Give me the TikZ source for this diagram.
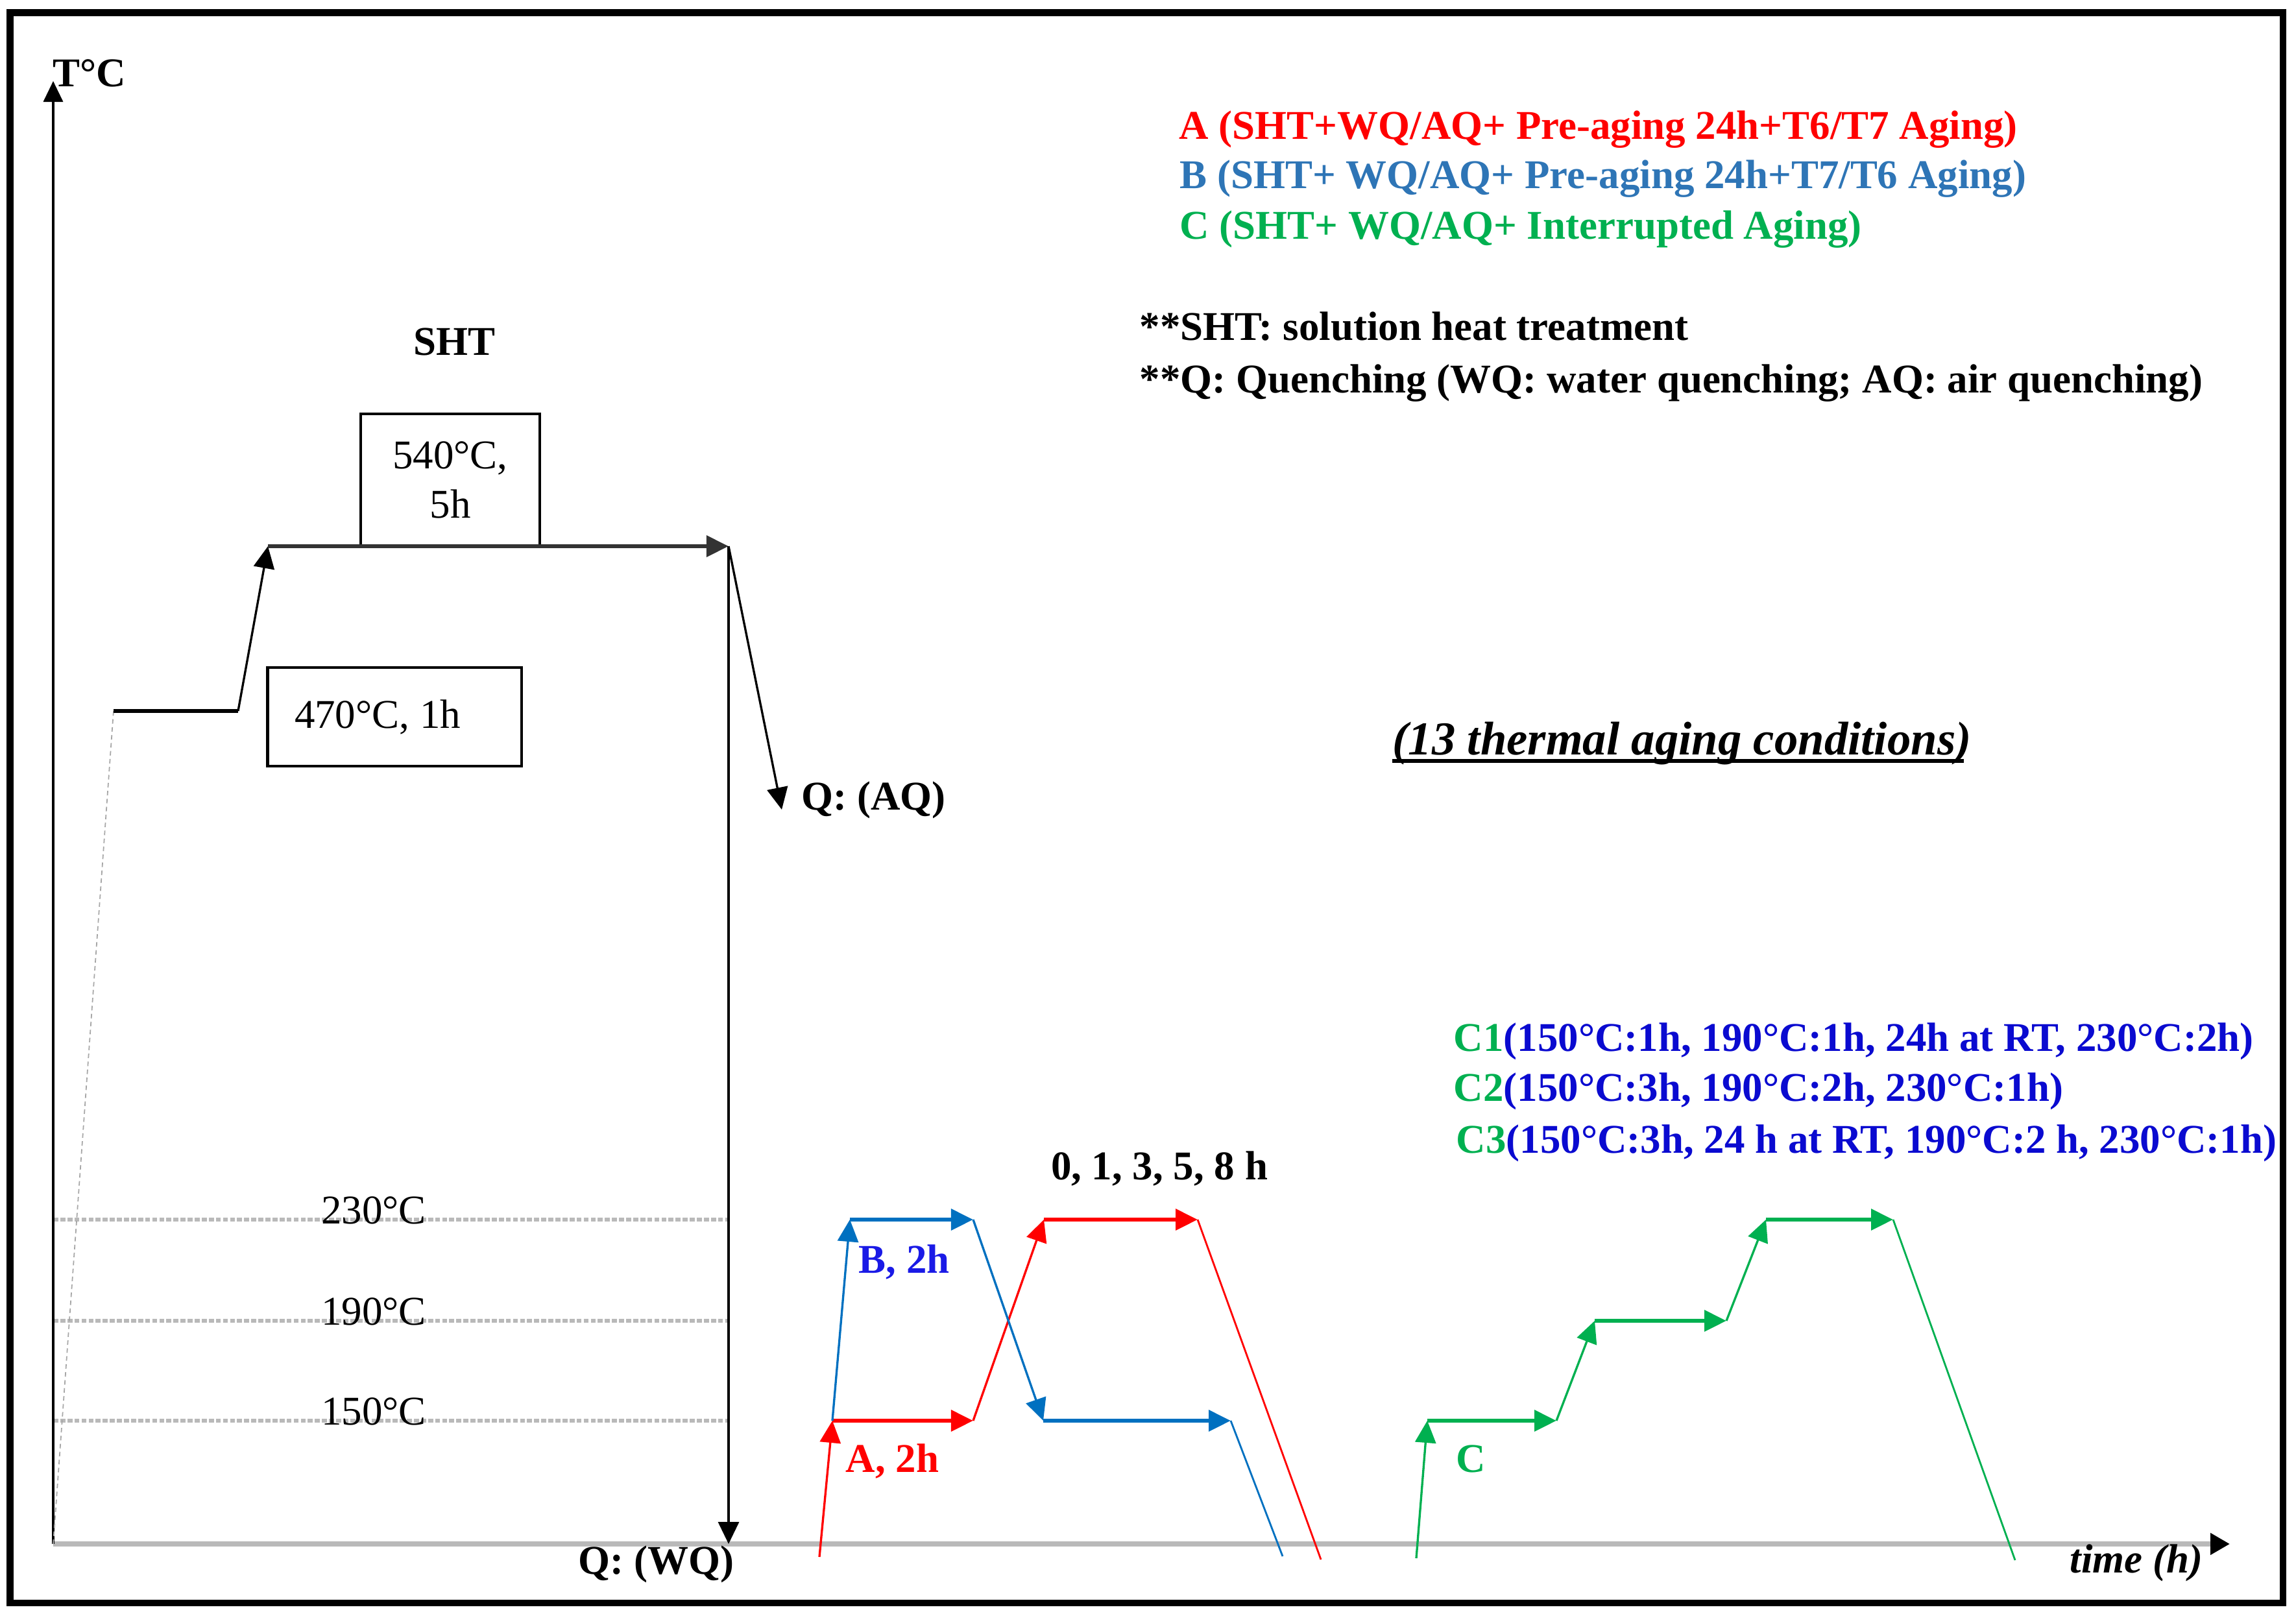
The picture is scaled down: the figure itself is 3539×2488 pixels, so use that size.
\documentclass[tikz,border=0pt]{standalone}
\usepackage{fontspec}
\setmainfont{Liberation Serif}
\usetikzlibrary{arrows.meta}
\definecolor{redA}{HTML}{FF0000}
\definecolor{blueB}{HTML}{0070C0}
\definecolor{legB}{HTML}{2E75B6}
\definecolor{lblB}{HTML}{1A1AE6}
\definecolor{greenC}{HTML}{00B050}
\definecolor{blueC}{HTML}{0A0AD0}
\begin{document}
\begin{tikzpicture}[x=0.01cm,y=-0.01cm,
  font=\fontsize{17.9}{21.8}\selectfont,
  arr/.style={-{Triangle[length=0.34cm,width=0.32cm]}},
  hold/.style={line width=1.8pt},
  ramp/.style={line width=0.95pt},
  drop/.style={line width=0.8pt},
  level/.style={gray!55, line width=1.9pt, dash pattern=on 2.2pt off 0.9pt},
  box/.style={draw, line width=1.2pt, inner sep=0pt},
  txt/.style={inner sep=0pt, anchor=base west},
  ctxt/.style={inner sep=0pt, anchor=base},
  bold/.style={font=\fontsize{17.9}{21.8}\selectfont\bfseries}
]
\useasboundingbox (0,0) rectangle (3539,2488);

% ---------- coordinates ----------
\coordinate (O) at (82,2380);
\coordinate (Ytop) at (82,125);
\coordinate (Xend) at (3437,2380);
\coordinate (P1) at (175,1096);
\coordinate (P2) at (367,1096);
\coordinate (P3) at (413,842);
\coordinate (P4) at (1123,842);
\coordinate (WQ) at (1123,2380);
\coordinate (AQ) at (1205,1248);
\coordinate (L230a) at (82,1880);  \coordinate (L230b) at (1123,1880);
\coordinate (L190a) at (82,2036);  \coordinate (L190b) at (1123,2036);
\coordinate (L150a) at (82,2190);  \coordinate (L150b) at (1123,2190);
% A
\coordinate (A0) at (1263,2400);
\coordinate (A1) at (1283,2190);
\coordinate (A2) at (1500,2190);
\coordinate (A3) at (1609,1880);
\coordinate (A4) at (1846,1880);
\coordinate (A5) at (2036,2404);
% B
\coordinate (B1) at (1310,1880);
\coordinate (B2) at (1500,1880);
\coordinate (B3) at (1608,2190);
\coordinate (B4) at (1897,2190);
\coordinate (B5) at (1977,2399);
% C
\coordinate (C0) at (2183,2402);
\coordinate (C1) at (2200,2190);
\coordinate (C2) at (2399,2190);
\coordinate (C3) at (2458,2036);
\coordinate (C4) at (2661,2036);
\coordinate (C5) at (2722,1880);
\coordinate (C6) at (2918,1880);
\coordinate (C7) at (3106,2405);

% ---------- level lines ----------
\draw[level] (L230a) -- (L230b);
\draw[level] (L190a) -- (L190b);
\draw[level] (L150a) -- (L150b);
\node[ctxt] (t230) at (576,1886) {230°C};
\node[ctxt] (t190) at (576,2042) {190°C};
\node[ctxt] (t150) at (576,2196) {150°C};

% ---------- axes ----------
\draw[gray!55, line width=2.5pt, -{Triangle[length=0.3cm,width=0.32cm,color=black]}] (O) -- (Xend);
\draw[line width=1pt, -{Triangle[length=0.32cm,width=0.3cm]}] (O) -- (Ytop);
\node[ctxt, bold] (tc) at (138,134) {T°C};
\node[txt, font=\fontsize{17.9}{21.8}\selectfont\bfseries\itshape] (time) at (3190,2424) {time (h)};

% ---------- SHT path ----------
\draw[gray!70, line width=0.5pt, dash pattern=on 2pt off 1.5pt] (O) -- (P1);
\node[box, minimum width=2.76cm, minimum height=2.04cm, align=center] (b540) at (694,740) {540°C,\\5h};
\node[box, minimum width=3.91cm, minimum height=1.52cm] (b470) at (608,1105) {};
\node[ctxt] (t470) at (582,1122) {470°C, 1h};
\node[ctxt, bold] (sht) at (700,547) {SHT};
\draw[line width=1.7pt] (P1) -- (P2);
\draw[ramp, arr] (P2) -- (P3);
\draw[hold, black!80, arr] (P3) -- (P4);
\draw[ramp, arr] (P4) -- (WQ);
\draw[ramp, arr] (P4) -- (AQ);
\node[txt, bold] (aq) at (1235,1248) {Q: (AQ)};
\node[txt, bold] (wq) at (891,2426) {Q: (WQ)};

% ---------- A ----------
\draw[redA, ramp, arr] (A0) -- (A1);
\draw[redA, hold, arr] (A1) -- (A2);
\draw[redA, ramp, arr] (A2) -- (A3);
\draw[redA, hold, arr] (A3) -- (A4);
\draw[redA, drop] (A4) -- (A5);
% ---------- B ----------
\draw[blueB, ramp, arr] (A1) -- (B1);
\draw[blueB, hold, arr] (B1) -- (B2);
\draw[blueB, ramp, arr] (B2) -- (B3);
\draw[blueB, hold, arr] (B3) -- (B4);
\draw[blueB, drop] (B4) -- (B5);
% ---------- C ----------
\draw[greenC, ramp, arr] (C0) -- (C1);
\draw[greenC, hold, arr] (C1) -- (C2);
\draw[greenC, ramp, arr] (C2) -- (C3);
\draw[greenC, hold, arr] (C3) -- (C4);
\draw[greenC, ramp, arr] (C4) -- (C5);
\draw[greenC, hold, arr] (C5) -- (C6);
\draw[greenC, drop] (C6) -- (C7);

\node[ctxt, bold] (hrs) at (1787,1818) {0, 1, 3, 5, 8 h};
\node[txt, bold, text=lblB] (lb) at (1323,1962) {B, 2h};
\node[txt, bold, text=redA] (la) at (1303,2269) {A, 2h};
\node[txt, bold, text=greenC] (lc) at (2244,2269) {C};

% ---------- legend ----------
\node[txt, bold, text=redA] (legA) at (1817,215) {A (SHT+WQ/AQ+ Pre-aging 24h+T6/T7 Aging)};
\node[txt, bold, text=legB] (legB) at (1818,291) {B (SHT+ WQ/AQ+ Pre-aging 24h+T7/T6 Aging)};
\node[txt, bold, text=greenC] (legC) at (1818,368) {C (SHT+ WQ/AQ+ Interrupted Aging)};
\node[txt, bold] (n1) at (1756,524) {**SHT: solution heat treatment};
\node[txt, bold] (n2) at (1756,605) {**Q: Quenching (WQ: water quenching; AQ: air quenching)};

\node[txt, font=\fontsize{20.7}{24}\selectfont\bfseries\itshape] (cond) at (2146,1163) {(13 thermal aging conditions)};
\draw[line width=1.7pt] ([yshift=-0.1cm]cond.base west) -- ([yshift=-0.1cm,xshift=-0.12cm]cond.base east);

\node[txt, bold, text=blueC] (c1) at (2240,1620) {\textcolor{greenC}{C1}(150°C:1h, 190°C:1h, 24h at RT, 230°C:2h)};
\node[txt, bold, text=blueC] (c2) at (2240,1697) {\textcolor{greenC}{C2}(150°C:3h, 190°C:2h, 230°C:1h)};
\node[txt, bold, text=blueC] (c3) at (2244,1777) {\textcolor{greenC}{C3}(150°C:3h, 24 h at RT, 190°C:2 h, 230°C:1h)};

% ---------- frame ----------
\draw[line width=3.1pt] (15.5,19.5) rectangle (3519,2471);
\end{tikzpicture}
\end{document}
